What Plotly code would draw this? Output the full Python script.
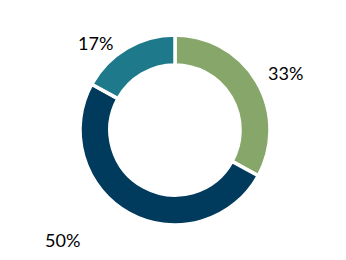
import plotly.graph_objects as go

labels = ["A", "B", "C"]
values = [33, 50, 17]
colors = ["#86A66A", "#003A5C", "#1E7A8A"]
label_pos = [(285, 73), (62, 240), (95, 43)]  # pixel positions of percentage labels

W, H = 346, 260
cx, cy, r = 175, 130, 95

fig = go.Figure(go.Pie(
    labels=labels, values=values, sort=False, direction="clockwise", rotation=0,
    hole=0.685, marker=dict(colors=colors, line=dict(color="white", width=3.5)),
    textinfo="none", hoverinfo="label+percent", showlegend=False,
    domain=dict(x=[(cx - r) / W, (cx + r) / W], y=[(H - cy - r) / H, (H - cy + r) / H]),
))

total = sum(values)
for v, (px, py) in zip(values, label_pos):
    fig.add_annotation(x=px / W, y=1 - py / H, xref="paper", yref="paper",
                       xanchor="center", yanchor="middle",
                       text=f"{round(100 * v / total)}%", showarrow=False,
                       font=dict(family="Lato, Open Sans, sans-serif", size=18, color="#000"))

fig.update_layout(width=W, height=H, margin=dict(l=0, r=0, t=0, b=0),
                  paper_bgcolor="white", plot_bgcolor="white")
fig.write_html("out.html")
